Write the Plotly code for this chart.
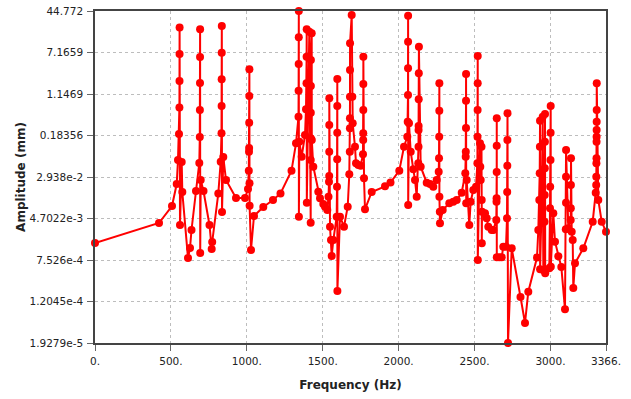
import math
import plotly.graph_objects as go

freq_hz = [
    0, 421.6, 507.2, 538.2, 546.7, 553.3, 556.0, 556.6, 557.0, 557.3,
    559.9, 571.1, 575.1, 612.6, 625.8, 635.7, 665.3, 687.0, 690.3, 691.0,
    691.6, 691.9, 692.3, 693.0, 696.3, 714.7, 754.2, 768.7, 772.0, 812.2,
    828.0, 833.3, 834.0, 834.4, 834.8, 835.3, 836.6, 845.1, 862.9, 928.8,
    988.1, 1007.8, 1013.1, 1014.4, 1015.1, 1015.7, 1016.4, 1017.0, 1017.7, 1018.4,
    1027.6, 1047.3, 1108.6, 1172.5, 1221.9, 1294.4, 1324.0, 1340.5, 1341.2, 1341.8,
    1342.2, 1342.5, 1343.1, 1345.8, 1361.5, 1383.3, 1389.9, 1393.2, 1393.9, 1394.5,
    1395.2, 1411.6, 1420.8, 1421.0, 1421.2, 1421.5, 1421.8, 1422.1, 1427.4, 1428.1,
    1438.0, 1470.9, 1482.1, 1503.8, 1515.0, 1530.2, 1538.1, 1541.4, 1542.8, 1543.0,
    1543.2, 1543.4, 1548.0, 1554.6, 1559.2, 1569.7, 1592.1, 1594.1, 1595.4, 1595.7,
    1595.9, 1596.1, 1596.7, 1613.8, 1640.2, 1664.6, 1675.1, 1678.4, 1679.2, 1679.4,
    1679.6, 1679.7, 1680.0, 1690.9, 1694.9, 1697.5, 1712.6, 1719.2, 1734.4, 1750.2,
    1765.3, 1766.6, 1767.0, 1767.3, 1767.5, 1767.7, 1771.9, 1778.5, 1822.7, 1910.3,
    1946.5, 2004.4, 2035.4, 2057.2, 2059.8, 2061.8, 2062.0, 2062.3, 2062.5, 2063.1,
    2068.3, 2079.6, 2096.7, 2107.9, 2119.1, 2129.6, 2131.0, 2131.3, 2131.6, 2132.3,
    2132.9, 2133.6, 2145.4, 2185.0, 2206.7, 2228.4, 2250.8, 2264.0, 2266.0, 2267.3,
    2268.0, 2268.3, 2268.6, 2271.3, 2272.5, 2290.3, 2333.8, 2360.2, 2382.5, 2415.5,
    2439.2, 2441.9, 2442.5, 2443.8, 2444.0, 2444.2, 2445.1, 2448.4, 2465.5, 2474.8,
    2491.9, 2509.7, 2518.9, 2519.6, 2520.2, 2520.9, 2521.1, 2521.5, 2536.0, 2538.0,
    2540.6, 2545.9, 2547.2, 2547.9, 2549.2, 2569.0, 2580.2, 2590.7, 2613.1, 2623.6,
    2643.4, 2644.7, 2645.4, 2646.0, 2646.2, 2646.4, 2646.7, 2663.2, 2679.0, 2689.5,
    2707.3, 2713.9, 2715.2, 2715.9, 2716.5, 2717.2, 2720.5, 2744.9, 2802.8, 2832.5,
    2854.2, 2911.5, 2920.1, 2926.6, 2929.3, 2930.6, 2931.3, 2931.9, 2942.4, 2949.0,
    2953.0, 2960.9, 2962.2, 2962.9, 2963.5, 2964.2, 2965.5, 2992.5, 2997.1, 2998.4,
    3000.4, 3001.1, 3001.7, 3002.4, 3018.9, 3030.1, 3051.9, 3071.6, 3095.9, 3101.2,
    3102.5, 3102.7, 3102.9, 3117.7, 3133.5, 3134.2, 3134.8, 3135.5, 3140.1, 3146.7,
    3150.6, 3161.8, 3216.5, 3278.4, 3298.2, 3301.5, 3302.1, 3302.8, 3303.5, 3303.8,
    3304.1, 3304.4, 3304.6, 3304.8, 3305.0, 3315.3, 3337.7, 3366.0,
]

amplitude_mm = [
    1.594e-3, 3.853e-3, 8.16e-3, 2.157e-2, 6.22e-2, 0.196, 0.632, 2.035, 6.705, 21.61,
    3.53e-3, 5.69e-2, 1.515e-2, 8.22e-4, 1.278e-3, 2.83e-3, 1.583e-2, 5.45e-2, 0.1718, 0.5656,
    1.864, 5.873, 19.96, 1.025e-3, 2.573e-2, 1.583e-2, 3.53e-3, 1.223e-3, 1.665e-3, 1.418e-2,
    5.77e-2, 0.2022, 0.675, 2.194, 7.10, 23.08, 6.26e-3, 7.10e-2, 2.573e-2, 1.162e-2,
    1.162e-2, 1.729e-2, 3.88e-2, 8.98e-2, 0.1057, 0.3229, 1.050, 3.413, 2.224e-2, 8.27e-3,
    1.170e-3, 5.25e-3, 7.81e-3, 1.064e-2, 1.418e-2, 3.88e-2, 0.130, 0.421, 1.327, 4.312,
    14.02, 44.772, 5.09e-3, 0.1396, 7.20e-2, 0.1876, 0.5835, 1.839, 5.953, 19.96,
    9.44e-3, 17.95, 3.905e-3, 6.22e-2, 0.1622, 0.5023, 1.632, 5.145, 16.73, 0.1505,
    4.63e-2, 1.535e-2, 1.147e-2, 8.92e-3, 7.91e-3, 6.84e-3, 1.231e-2, 2.386e-2, 3.07e-2, 8.98e-2,
    0.2917, 0.9484, 3.27e-3, 1.819e-3, 8.98e-4, 1.819e-3, 5.09e-3, 1.913e-2, 6.42e-2, 0.2077,
    0.675, 2.224, 1.914e-4, 5.09e-3, 3.27e-3, 7.91e-3, 3.31e-2, 8.98e-2, 0.2522, 0.3923,
    1.018, 3.307, 10.75, 37.52, 1.018, 0.3145, 0.1119, 5.38e-2, 4.99e-2, 4.84e-2,
    8.00e-2, 0.1505, 0.2022, 0.5656, 1.783, 5.953, 2.773e-2, 7.06e-3, 1.515e-2, 1.949e-2,
    2.304e-2, 3.88e-2, 0.1119, 0.1741, 0.3375, 1.097, 3.566, 11.54, 36.38, 8.53e-3,
    0.3145, 8.98e-2, 4.13e-2, 2.573e-2, 1.231e-2, 5.38e-2, 0.1119, 0.2339, 0.2791, 0.9074,
    2.860, 9.26, 4.63e-2, 2.284e-2, 2.157e-2, 1.913e-2, 2.573e-2, 3.71e-2, 6.71e-2, 0.1741,
    0.5484, 1.839, 1.231e-2, 6.35e-3, 3.80e-3, 6.84e-3, 9.20e-3, 9.87e-3, 1.064e-2, 1.468e-2,
    3.46e-2, 7.20e-2, 8.98e-2, 0.2556, 0.853, 2.773, 9.20e-3, 2.573e-2, 3.53e-3, 9.87e-3,
    1.654e-2, 1.913e-2, 5.38e-2, 0.1741, 0.5656, 1.839, 6.14, 7.52e-4, 0.130, 4.63e-2,
    2.573e-2, 0.1119, 1.064e-2, 1.572e-3, 6.35e-3, 5.91e-3, 4.74e-3, 3.27e-3, 2.83e-3, 2.83e-3,
    4.40e-3, 9.87e-3, 1.147e-2, 3.66e-2, 0.1170, 0.3923, 8.48e-4, 8.48e-4, 8.48e-4, 1.353e-3,
    1.353e-3, 4.74e-3, 1.515e-2, 4.84e-2, 0.1505, 0.489, 1.9279e-5, 1.261e-3, 1.468e-4, 4.66e-5,
    1.856e-4, 8.40e-4, 2.83e-3, 1.064e-2, 3.46e-2, 0.1119, 0.3528, 4.99e-4, 9.87e-3, 0.421,
    4.84e-4, 4.08e-3, 1.327e-2, 4.31e-2, 0.1396, 0.474, 4.18e-4, 5.22e-4, 7.37e-3, 1.913e-2,
    6.22e-2, 0.2077, 0.675, 5.60e-4, 5.91e-3, 1.688e-3, 8.86e-4, 5.52e-4, 8.53e-5, 2.917e-3,
    9.44e-3, 2.977e-2, 9.67e-2, 3.05e-3, 4.40e-3, 7.37e-3, 2.064e-2, 6.71e-2, 2.624e-3, 1.819e-3,
    2.185e-4, 6.50e-4, 1.261e-3, 4.08e-3, 1.468e-2, 2.064e-2, 2.977e-2, 5.38e-2, 6.71e-2, 0.1396,
    0.1741, 0.2339, 0.3375, 0.5656, 1.839, 1.064e-2, 4.08e-3, 2.624e-3,
]

x_tick_vals = [0, 500, 1000, 1500, 2000, 2500, 3000, 3366]
x_tick_text = ["0.", "500.", "1000.", "1500.", "2000.", "2500.", "3000.", "3366."]
y_tick_vals = [44.772, 7.1659, 1.1469, 0.18356, 2.938e-2, 4.7022e-3, 7.526e-4, 1.2045e-4, 1.9279e-5]
y_tick_text = ["44.772", "7.1659", "1.1469", "0.18356", "2.938e-2", "4.7022e-3",
               "7.526e-4", "1.2045e-4", "1.9279e-5"]

FONT = "DejaVu Sans"

fig = go.Figure()
fig.add_trace(go.Scatter(
    x=freq_hz, y=amplitude_mm, mode="lines+markers",
    line=dict(color="#ff0000", width=2),
    marker=dict(color="#ff0000", size=8, symbol="circle"),
    cliponaxis=False, showlegend=False,
))

axis_common = dict(
    showline=True, linecolor="#444444", linewidth=1.5, mirror=True,
    ticks="outside", ticklen=6, tickcolor="#666666", tickwidth=1,
    showgrid=True, gridcolor="#bdbdbd", gridwidth=1, griddash="3px,3px",
    zeroline=False, automargin=False, ticklabelstandoff=2,
    tickfont=dict(family=FONT, size=10.5, color="#222222"),
)

fig.update_layout(
    width=631, height=399,
    margin=dict(l=95, r=25, t=11, b=56),
    paper_bgcolor="white", plot_bgcolor="white",
    xaxis=dict(
        range=[0, 3366], tickvals=x_tick_vals, ticktext=x_tick_text,
        title=dict(text="<b>Frequency (Hz)</b>", font=dict(family=FONT, size=12, color="#222222"), standoff=14),
        **axis_common,
    ),
    yaxis=dict(
        type="log", range=[math.log10(1.9279e-5), math.log10(44.772)],
        tickvals=y_tick_vals, ticktext=y_tick_text,
        title=dict(text="<b>Amplitude (mm)</b>", font=dict(family=FONT, size=12, color="#222222"), standoff=1),
        **axis_common,
    ),
)

# remove the browser's default 8px body margin so the figure sits at the window origin
fig.write_html("out.html", config={"displayModeBar": False},
               post_script="document.body.style.margin='0';")
